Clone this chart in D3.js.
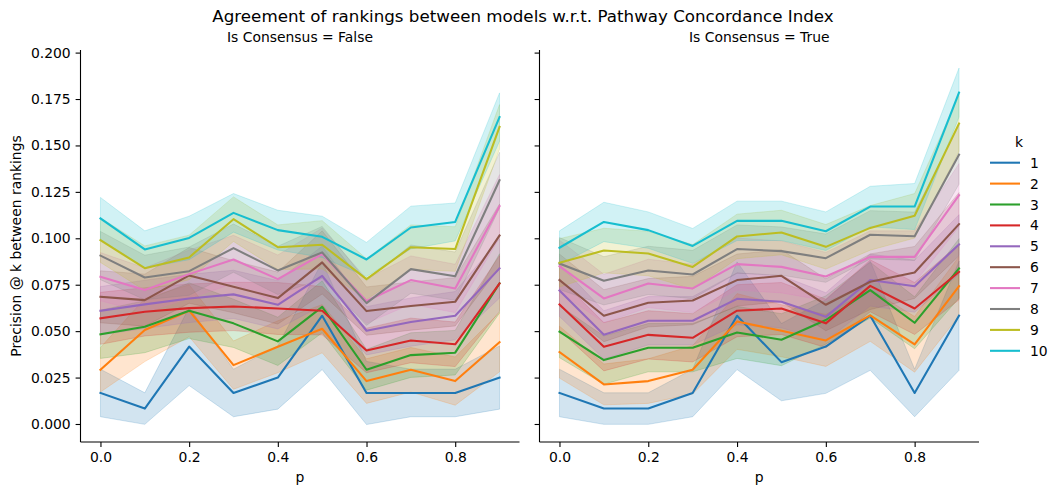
<!DOCTYPE html>
<html>
<head>
<meta charset="utf-8">
<script src="https://cdn.jsdelivr.net/npm/d3@7"></script>
<style>
  body { margin: 0; background: #fff; }
  svg text { font-family: "DejaVu Sans", sans-serif; fill: #000; }
</style>
</head>
<body>
<svg id="chart" width="1060" height="495"></svg>
<script>
// ---------- DATA ----------
const pValues = [0.0, 0.1, 0.2, 0.3, 0.4, 0.5, 0.6, 0.7, 0.8, 0.9];
const kLabels = ["1", "2", "3", "4", "5", "6", "7", "8", "9", "10"];
const panelTitles = ["Is Consensus = False", "Is Consensus = True"];
const yTicks = [0.000, 0.025, 0.050, 0.075, 0.100, 0.125, 0.150, 0.175, 0.200];
const xTicks = [0.0, 0.2, 0.4, 0.6, 0.8];
const colors = ["#1f77b4", "#ff7f0e", "#2ca02c", "#d62728", "#9467bd",
                "#8c564b", "#e377c2", "#7f7f7f", "#bcbd22", "#17becf"];

// Is Consensus = False : mean precision per k (rows) over p (columns)
const meanFalse = [
  [0.0167, 0.0083, 0.0417, 0.0167, 0.0250, 0.0583, 0.0167, 0.0167, 0.0167, 0.0250],
  [0.0292, 0.0506, 0.0610, 0.0317, 0.0416, 0.0513, 0.0231, 0.0292, 0.0231, 0.0441],
  [0.0483, 0.0524, 0.0610, 0.0542, 0.0445, 0.0631, 0.0292, 0.0371, 0.0384, 0.0757],
  [0.0569, 0.0604, 0.0624, 0.0633, 0.0622, 0.0610, 0.0396, 0.0450, 0.0429, 0.0757],
  [0.0610, 0.0644, 0.0676, 0.0698, 0.0642, 0.0798, 0.0502, 0.0549, 0.0583, 0.0838],
  [0.0685, 0.0667, 0.0800, 0.0739, 0.0678, 0.0870, 0.0608, 0.0635, 0.0658, 0.1015],
  [0.0793, 0.0721, 0.0807, 0.0886, 0.0780, 0.0915, 0.0662, 0.0775, 0.0730, 0.1173],
  [0.0907, 0.0789, 0.0823, 0.0947, 0.0827, 0.0924, 0.0651, 0.0834, 0.0796, 0.1313],
  [0.0990, 0.0839, 0.0897, 0.1103, 0.0952, 0.0965, 0.0780, 0.0952, 0.0942, 0.1600],
  [0.1107, 0.0940, 0.1002, 0.1137, 0.1044, 0.1008, 0.0886, 0.1058, 0.1088, 0.1653]
];
// Is Consensus = False : half-width of the confidence band
const ciFalse = [
  [0.0128, 0.0085, 0.0210, 0.0128, 0.0170, 0.0290, 0.0170, 0.0128, 0.0128, 0.0170],
  [0.0120, 0.0170, 0.0140, 0.0130, 0.0140, 0.0130, 0.0120, 0.0120, 0.0130, 0.0160],
  [0.0130, 0.0140, 0.0150, 0.0130, 0.0130, 0.0140, 0.0110, 0.0120, 0.0120, 0.0160],
  [0.0140, 0.0130, 0.0130, 0.0130, 0.0140, 0.0130, 0.0120, 0.0120, 0.0120, 0.0150],
  [0.0130, 0.0130, 0.0130, 0.0130, 0.0130, 0.0160, 0.0130, 0.0130, 0.0130, 0.0160],
  [0.0140, 0.0140, 0.0150, 0.0140, 0.0140, 0.0170, 0.0130, 0.0130, 0.0130, 0.0170],
  [0.0130, 0.0120, 0.0130, 0.0130, 0.0130, 0.0140, 0.0120, 0.0130, 0.0130, 0.0170],
  [0.0130, 0.0120, 0.0130, 0.0130, 0.0130, 0.0140, 0.0120, 0.0130, 0.0130, 0.0150],
  [0.0120, 0.0120, 0.0120, 0.0120, 0.0120, 0.0130, 0.0110, 0.0120, 0.0120, 0.0120],
  [0.0113, 0.0100, 0.0117, 0.0104, 0.0107, 0.0111, 0.0092, 0.0115, 0.0102, 0.0130]
];
// Is Consensus = True : mean precision per k (rows) over p (columns)
const meanTrue = [
  [0.0167, 0.0083, 0.0083, 0.0167, 0.0583, 0.0333, 0.0417, 0.0583, 0.0167, 0.0583],
  [0.0387, 0.0213, 0.0231, 0.0292, 0.0552, 0.0502, 0.0450, 0.0585, 0.0429, 0.0742],
  [0.0497, 0.0344, 0.0411, 0.0411, 0.0493, 0.0454, 0.0560, 0.0721, 0.0545, 0.0838],
  [0.0644, 0.0416, 0.0480, 0.0464, 0.0610, 0.0622, 0.0542, 0.0744, 0.0622, 0.0819],
  [0.0719, 0.0480, 0.0556, 0.0556, 0.0674, 0.0658, 0.0577, 0.0775, 0.0742, 0.0967],
  [0.0775, 0.0583, 0.0653, 0.0665, 0.0775, 0.0798, 0.0642, 0.0766, 0.0816, 0.1076],
  [0.0850, 0.0676, 0.0757, 0.0730, 0.0861, 0.0846, 0.0794, 0.0900, 0.0900, 0.1232],
  [0.0864, 0.0771, 0.0827, 0.0805, 0.0942, 0.0931, 0.0893, 0.1019, 0.1011, 0.1451],
  [0.0868, 0.0934, 0.0918, 0.0846, 0.1010, 0.1031, 0.0954, 0.1056, 0.1121, 0.1618],
  [0.0949, 0.1088, 0.1044, 0.0959, 0.1094, 0.1094, 0.1038, 0.1171, 0.1171, 0.1785]
];
// Is Consensus = True : half-width of the confidence band
const ciTrue = [
  [0.0128, 0.0085, 0.0085, 0.0128, 0.0290, 0.0208, 0.0252, 0.0294, 0.0128, 0.0294],
  [0.0140, 0.0110, 0.0120, 0.0130, 0.0150, 0.0140, 0.0140, 0.0140, 0.0150, 0.0160],
  [0.0140, 0.0130, 0.0130, 0.0130, 0.0140, 0.0140, 0.0130, 0.0150, 0.0140, 0.0160],
  [0.0140, 0.0130, 0.0130, 0.0130, 0.0140, 0.0140, 0.0130, 0.0140, 0.0140, 0.0150],
  [0.0140, 0.0130, 0.0130, 0.0130, 0.0140, 0.0140, 0.0130, 0.0140, 0.0140, 0.0160],
  [0.0140, 0.0140, 0.0130, 0.0130, 0.0140, 0.0140, 0.0140, 0.0150, 0.0140, 0.0170],
  [0.0140, 0.0130, 0.0130, 0.0130, 0.0140, 0.0140, 0.0130, 0.0140, 0.0140, 0.0170],
  [0.0140, 0.0130, 0.0130, 0.0130, 0.0130, 0.0130, 0.0130, 0.0130, 0.0130, 0.0160],
  [0.0130, 0.0120, 0.0120, 0.0120, 0.0120, 0.0120, 0.0120, 0.0120, 0.0120, 0.0150],
  [0.0091, 0.0106, 0.0098, 0.0094, 0.0106, 0.0106, 0.0104, 0.0109, 0.0124, 0.0132]
];

// ---------- LAYOUT ----------
const svg = d3.select("#chart");
svg.append("rect").attr("width", 1060).attr("height", 495).attr("fill", "#fff");

const plotTop = 50, plotBottom = 442;
const panels = [
  { left: 80.5, right: 519.5, means: meanFalse, cis: ciFalse, title: panelTitles[0], showYLabels: true },
  { left: 539.5, right: 979, means: meanTrue, cis: ciTrue, title: panelTitles[1], showYLabels: false }
];

const y = d3.scaleLinear().domain([-0.0097, 0.2014]).range([plotBottom, plotTop]);
const tickFont = 13.9;
const lineW = 2.08;

panels.forEach(panel => {
  const x = d3.scaleLinear().domain([-0.045, 0.945]).range([panel.left, panel.right]);
  const g = svg.append("g");

  const area = d3.area()
    .x((d, i) => x(pValues[i]))
    .y0(d => y(d[0]))
    .y1(d => y(d[1]));
  const line = d3.line()
    .x((d, i) => x(pValues[i]))
    .y(d => y(d));

  // bands first (below all lines)
  panel.means.forEach((row, k) => {
    const band = row.map((m, i) => [m - panel.cis[k][i], m + panel.cis[k][i]]);
    g.append("path")
      .attr("d", area(band))
      .attr("fill", colors[k])
      .attr("fill-opacity", 0.2)
      .attr("stroke", colors[k])
      .attr("stroke-opacity", 0.2)
      .attr("stroke-width", 1);
  });
  panel.means.forEach((row, k) => {
    g.append("path")
      .attr("d", line(row))
      .attr("fill", "none")
      .attr("stroke", colors[k])
      .attr("stroke-width", lineW)
      .attr("stroke-linejoin", "round")
      .attr("stroke-linecap", "square");
  });

  // axes
  const yAxis = d3.axisLeft(y).tickValues(yTicks).tickSizeInner(4.9).tickSizeOuter(0).tickPadding(4.9)
    .tickFormat(panel.showYLabels ? d3.format(".3f") : () => "");
  const ya = svg.append("g").attr("transform", `translate(${panel.left},0)`).call(yAxis);
  const xAxis = d3.axisBottom(x).tickValues(xTicks).tickSizeInner(4.9).tickSizeOuter(0).tickPadding(4.9)
    .tickFormat(d3.format(".1f"));
  const xa = svg.append("g").attr("transform", `translate(0,${plotBottom})`).call(xAxis);
  [ya, xa].forEach(a => {
    a.selectAll("text").attr("font-size", tickFont).attr("font-family", "DejaVu Sans").attr("fill", "#000");
    a.selectAll("line").attr("stroke", "#000").attr("stroke-width", 1.1);
    a.select(".domain").attr("stroke", "#000").attr("stroke-width", 1.1);
  });
  xa.select(".domain").attr("d", `M${panel.left},0H${panel.right}`);
  ya.select(".domain").attr("d", `M0,${plotBottom}V${plotTop}`);

  // panel title
  svg.append("text")
    .attr("x", (panel.left + panel.right) / 2)
    .attr("y", 41.5)
    .attr("text-anchor", "middle")
    .attr("font-size", tickFont)
    .text(panel.title);

  // x label
  svg.append("text")
    .attr("x", (panel.left + panel.right) / 2)
    .attr("y", 482)
    .attr("text-anchor", "middle")
    .attr("font-size", tickFont)
    .text("p");
});

// y label
svg.append("text")
  .attr("transform", `translate(21,${(plotTop + plotBottom) / 2}) rotate(-90)`)
  .attr("text-anchor", "middle")
  .attr("font-size", tickFont)
  .text("Precision @ k between rankings");

// suptitle
svg.append("text")
  .attr("x", 523)
  .attr("y", 22)
  .attr("text-anchor", "middle")
  .attr("font-size", 16.7)
  .text("Agreement of rankings between models w.r.t. Pathway Concordance Index");

// legend
const legend = svg.append("g");
legend.append("text")
  .attr("x", 1019).attr("y", 147)
  .attr("text-anchor", "middle")
  .attr("font-size", tickFont)
  .text("k");
kLabels.forEach((lab, i) => {
  const ly = 162.7 + i * 20.9;
  legend.append("line")
    .attr("x1", 990).attr("x2", 1020)
    .attr("y1", ly).attr("y2", ly)
    .attr("stroke", colors[i]).attr("stroke-width", lineW);
  legend.append("text")
    .attr("x", 1030).attr("y", ly)
    .attr("dy", "0.36em")
    .attr("font-size", tickFont)
    .text(lab);
});
</script>
</body>
</html>
